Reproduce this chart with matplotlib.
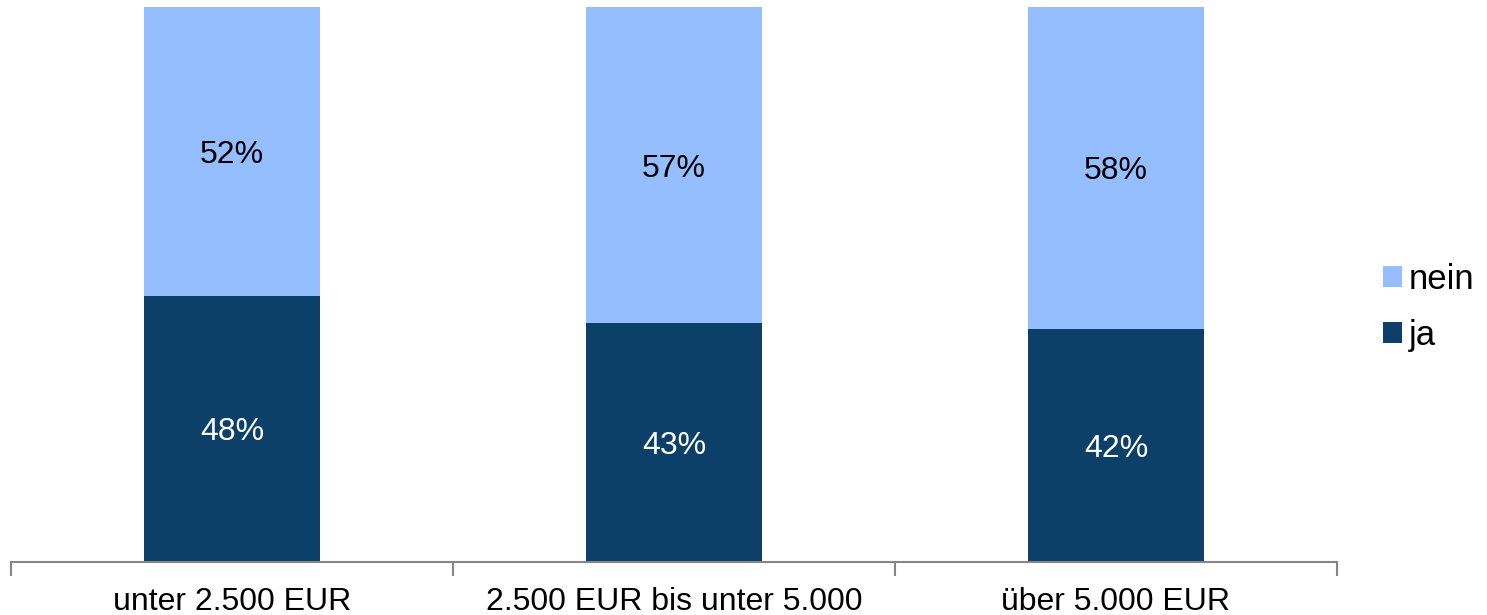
import matplotlib.pyplot as plt
import numpy as np

categories = ["unter 2.500 EUR", "2.500 EUR bis unter 5.000", "über 5.000 EUR"]
ja = [48, 43, 42]
nein = [52, 57, 58]

dark = "#0C4068"
light = "#94BEFF"

plt.rcParams["font.family"] = ["Liberation Sans", "DejaVu Sans"]

fig = plt.figure(figsize=(14.87, 6.15), dpi=100)
ax = fig.add_axes([0.0074, 0.0862, 0.8917, 0.9024])

x = np.arange(len(categories))
b1 = ax.bar(x, ja, width=0.4, color=dark, label="ja")
b2 = ax.bar(x, nein, width=0.4, bottom=ja, color=light, label="nein")

for i in range(len(categories)):
    ax.text(x[i], ja[i] / 2, f"{ja[i]}%", ha="center", va="center_baseline",
            color="white", fontsize=23)
    ax.text(x[i], ja[i] + nein[i] / 2, f"{nein[i]}%", ha="center",
            va="center_baseline", color="black", fontsize=23)

ax.set_xlim(-0.5, len(categories) - 0.5)
ax.set_ylim(0, 100)

for s in ["top", "right", "left"]:
    ax.spines[s].set_visible(False)
ax.spines["bottom"].set_color("#868686")
ax.spines["bottom"].set_linewidth(1.5)

ax.set_yticks([])
ax.set_xticks(x)
ax.set_xticklabels(categories, fontsize=23)
ax.tick_params(axis="x", which="major", length=0, pad=18)
ax.set_xticks(np.arange(-0.5, len(categories)), minor=True)
ax.tick_params(axis="x", which="minor", length=10, width=1.5, color="#868686")

handles, labels = ax.get_legend_handles_labels()
ax.legend(handles[::-1], labels[::-1], loc="center left",
          bbox_to_anchor=(1.011, 0.459), frameon=False, fontsize=25,
          handlelength=0.55, handleheight=0.55, handletextpad=0.2,
          labelspacing=0.67)

fig.savefig("out.png", dpi=100)
